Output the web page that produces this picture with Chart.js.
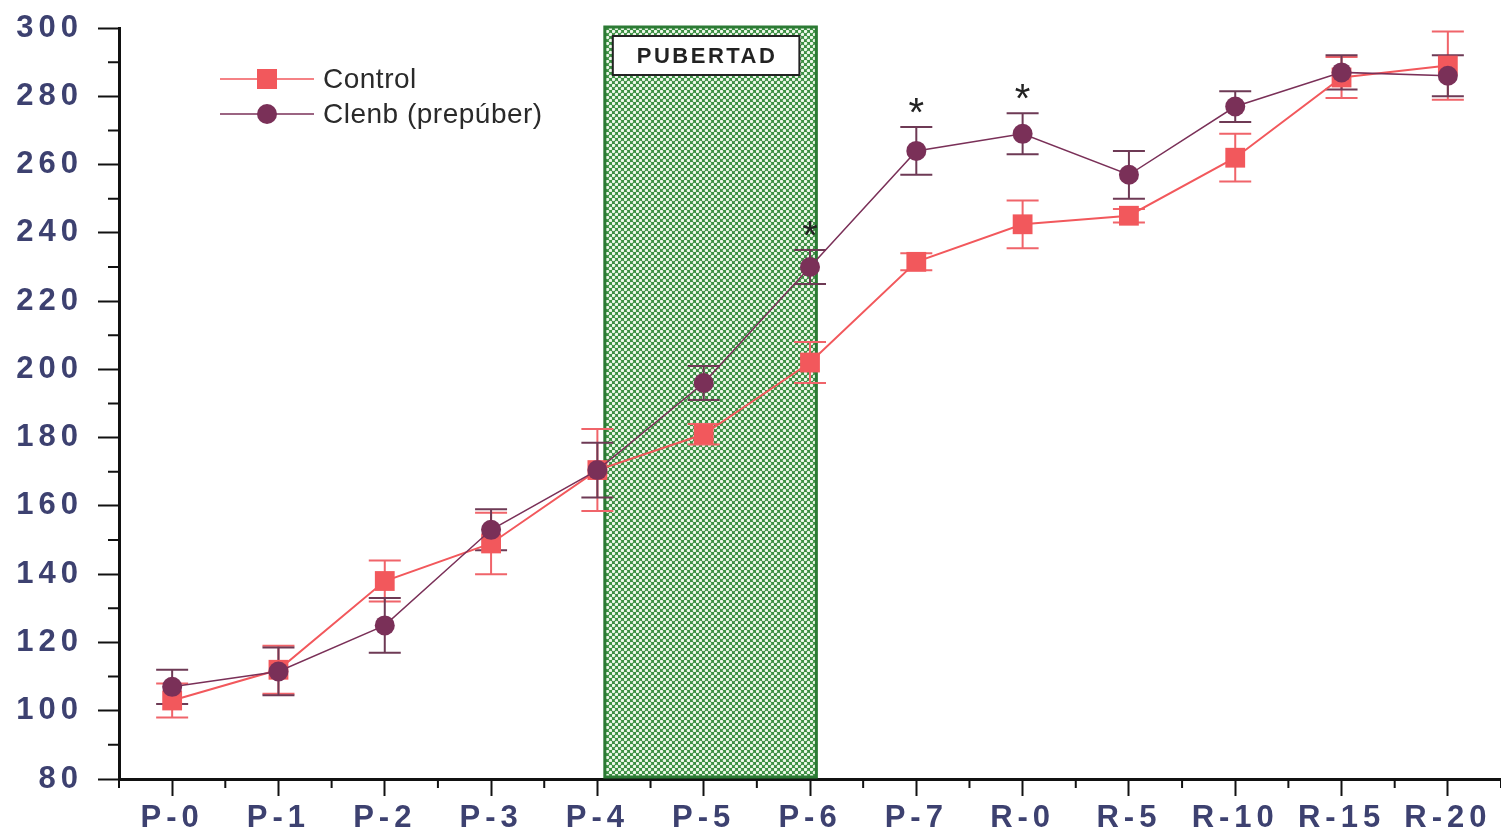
<!DOCTYPE html>
<html>
<head>
<meta charset="utf-8">
<script src="https://cdn.jsdelivr.net/npm/chart.js@4"></script>
<style>
  html, body { margin: 0; padding: 0; background: #fff; overflow: hidden; }
  #wrap { width: 1501px; height: 836px; position: relative; }
</style>
</head>
<body>
<div id="wrap"><canvas id="chart"></canvas></div>
<script>
const labels = ['P-0', 'P-1', 'P-2', 'P-3', 'P-4', 'P-5', 'P-6', 'P-7', 'R-0', 'R-5', 'R-10', 'R-15', 'R-20'];
const control = [103, 112, 138, 149, 170.5, 181, 202, 231.5, 242.5, 245, 262, 285.5, 289];
const controlErr = [5, 7, 6, 9, 12, 3, 6, 2.5, 7, 2, 7, 6, 10];
const clenb = [107, 111.5, 125, 153, 170.5, 196, 230, 264, 269, 257, 277, 287, 286];
const clenbErr = [5, 7, 8, 6, 8, 5, 5, 7, 6, 7, 4.5, 5, 6];
const starred = ['P-6', 'P-7', 'R-0'];
const pubertad = [4.07, 6.06]; // category positions of the shaded band

const RED = '#f2585c';
const PURPLE = '#7a3058';
const AXIS_TEXT = '#3d4170';

// green crosshatch fill for the band
function makePattern(ctx) {
    const c = document.createElement('canvas');
    c.width = 6; c.height = 6;
    const p = c.getContext('2d');
    p.fillStyle = '#3b8f42';
    p.fillRect(0, 0, 6, 6);
    p.fillStyle = '#eef8ea';
    [[1.5, 1.5], [4.5, 4.5]].forEach(([x, y]) => {
        p.beginPath(); p.arc(x, y, 1.7, 0, Math.PI * 2); p.fill();
    });
    return ctx.createPattern(c, 'repeat');
}

const extras = {
    id: 'extras',
    beforeDraw(chart) {
        chart.ctx.letterSpacing = '5px';
    },
    beforeDatasetsDraw(chart) {
        const { ctx, scales: { x, y } } = chart;
        ctx.save();
        ctx.letterSpacing = '0px';
        // band
        const x0 = x.getPixelForValue(pubertad[0]);
        const x1 = x.getPixelForValue(pubertad[1]);
        const yt = y.getPixelForValue(300) - 1;
        const yb = y.getPixelForValue(80) - 2;
        ctx.fillStyle = makePattern(ctx);
        ctx.fillRect(x0, yt, x1 - x0, yb - yt);
        ctx.strokeStyle = '#2c7a34';
        ctx.lineWidth = 3;
        ctx.strokeRect(x0, yt, x1 - x0, yb - yt);
        // label box
        const bx = x0 + 8, bw = x1 - x0 - 25, by = yt + 9, bh = 39;
        ctx.fillStyle = '#fff';
        ctx.fillRect(bx, by, bw, bh);
        ctx.strokeStyle = '#222';
        ctx.lineWidth = 2;
        ctx.strokeRect(bx, by, bw, bh);
        ctx.fillStyle = '#222';
        ctx.font = 'bold 22px "Liberation Sans", Arial, sans-serif';
        ctx.letterSpacing = '2.5px';
        ctx.textAlign = 'center';
        ctx.textBaseline = 'middle';
        ctx.fillText('PUBERTAD', bx + bw / 2 + 1, by + bh / 2 + 1);
        ctx.letterSpacing = '0px';

        // error bars
        const sets = [[control, controlErr, '#f0646a'], [clenb, clenbErr, '#6e3a55']];
        sets.forEach(([vals, errs, col]) => {
            ctx.strokeStyle = col;
            ctx.lineWidth = 2;
            vals.forEach((v, i) => {
                const px = x.getPixelForValue(i);
                const hi = y.getPixelForValue(v + errs[i]);
                const lo = y.getPixelForValue(v - errs[i]);
                ctx.beginPath();
                ctx.moveTo(px, hi); ctx.lineTo(px, lo);
                ctx.moveTo(px - 16, hi); ctx.lineTo(px + 16, hi);
                ctx.moveTo(px - 16, lo); ctx.lineTo(px + 16, lo);
                ctx.stroke();
            });
        });
        ctx.restore();
    },
    afterDatasetsDraw(chart) {
        const { ctx, scales: { x, y } } = chart;
        ctx.save();
        ctx.letterSpacing = '0px';
        // significance stars
        ctx.fillStyle = '#222';
        ctx.font = '40px "Liberation Sans", Arial, sans-serif';
        ctx.textAlign = 'center';
        ctx.textBaseline = 'middle';
        starred.forEach(lab => {
            const i = labels.indexOf(lab);
            ctx.fillText('*', x.getPixelForValue(i), y.getPixelForValue(clenb[i] + clenbErr[i]) - 12);
        });

        // minor ticks
        ctx.strokeStyle = '#111';
        ctx.lineWidth = 2;
        ctx.beginPath();
        for (let v = 90; v < 300; v += 20) {
            const py = y.getPixelForValue(v);
            ctx.moveTo(y.right - 11, py); ctx.lineTo(y.right, py);
        }
        for (let i = 0; i <= labels.length; i++) {
            const px = x.getPixelForValue(i - 0.5);
            ctx.moveTo(px, x.top); ctx.lineTo(px, x.top + 9);
        }
        ctx.stroke();

        // legend
        ctx.font = '28px "Liberation Sans", Arial, sans-serif';
        ctx.letterSpacing = '0.5px';
        ctx.textAlign = 'left';
        ctx.textBaseline = 'middle';
        const items = [[chart.data.datasets[1], 79], [chart.data.datasets[0], 114]];
        items.forEach(([ds, ly]) => {
            ctx.strokeStyle = ds.borderColor;
            ctx.lineWidth = 1.5;
            ctx.beginPath(); ctx.moveTo(220, ly); ctx.lineTo(314, ly); ctx.stroke();
            ctx.fillStyle = ds.pointBackgroundColor;
            ctx.beginPath();
            if (ds.pointStyle === 'rect') ctx.rect(257, ly - 10, 20, 20);
            else ctx.arc(267, ly, 10, 0, Math.PI * 2);
            ctx.fill();
            ctx.fillStyle = '#2a2a2a';
            ctx.fillText(ds.label, 323, ly + 1);
        });
        ctx.restore();
    },
    afterDraw(chart) {
        chart.ctx.letterSpacing = '0px';
    }
};

new Chart(document.getElementById('chart'), {
    type: 'line',
    data: {
        labels,
        datasets: [{
            label: 'Clenb (prepúber)',
            data: clenb,
            borderColor: PURPLE,
            borderWidth: 1.5,
            pointStyle: 'circle',
            pointRadius: 10,
            pointBackgroundColor: PURPLE,
            pointBorderColor: PURPLE,
            pointBorderWidth: 0,
            order: 0
        }, {
            label: 'Control',
            data: control,
            borderColor: RED,
            borderWidth: 2,
            pointStyle: 'rect',
            pointRadius: 14,
            pointBackgroundColor: RED,
            pointBorderColor: RED,
            pointBorderWidth: 0,
            order: 1
        }]
    },
    options: {
        responsive: true,
        maintainAspectRatio: false,
        animation: false,
        layout: { autoPadding: false, padding: { top: 28, right: 0, left: 0, bottom: 0 } },
        plugins: {
            legend: { display: false },
            tooltip: { enabled: false }
        },
        scales: {
            x: {
                offset: true,
                grid: {
                    offset: false,
                    drawOnChartArea: false,
                    tickLength: 17,
                    tickWidth: 2,
                    tickColor: '#111'
                },
                border: { color: '#111', width: 3 },
                ticks: {
                    color: AXIS_TEXT,
                    padding: 4,
                    maxRotation: 0,
                    autoSkip: false,
                    font: { family: '"Liberation Sans", Arial, sans-serif', size: 31, weight: 'bold' }
                },
                afterFit: s => { s.height = 57; s.paddingLeft = 0; s.paddingRight = 0; }
            },
            y: {
                min: 80,
                max: 300,
                ticks: {
                    stepSize: 20,
                    color: AXIS_TEXT,
                    padding: 15,
                    font: { family: '"Liberation Sans", Arial, sans-serif', size: 31, weight: 'bold' }
                },
                grid: {
                    drawOnChartArea: false,
                    tickLength: 21,
                    tickWidth: 2,
                    tickColor: '#111'
                },
                border: { color: '#111', width: 3 },
                afterFit: s => { s.width = 119; s.paddingTop = 0; s.paddingBottom = 0; }
            }
        }
    },
    plugins: [extras]
});
</script>
</body>
</html>
